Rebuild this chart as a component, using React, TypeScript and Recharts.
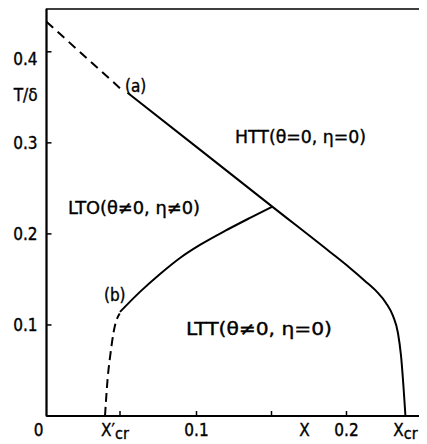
import { LineChart, Line, XAxis, YAxis, ReferenceArea, ReferenceDot } from 'recharts';

const FONT = "'DejaVu Sans Condensed', 'Liberation Sans Narrow', 'DejaVu Sans', sans-serif";

// curve (a): upper boundary of the HTT phase
const aDashX = [0, 0.049];
const aDashY = [0.433, 0.36];
const aSolidX = [0.054, 0.1027, 0.1507, 0.189, 0.2023, 0.2123, 0.2203, 0.2263, 0.231, 0.2343, 0.2363, 0.2393];
const aSolidY = [0.355, 0.292, 0.2297, 0.1802, 0.1626, 0.1484, 0.1363, 0.1242, 0.1099, 0.0912, 0.067, 0];

// curve (b): LTO / LTT boundary
const bSolidX = [0.049, 0.0623, 0.0757, 0.089, 0.1023, 0.119, 0.1357, 0.1503];
const bSolidY = [0.1143, 0.1363, 0.156, 0.1736, 0.1879, 0.2033, 0.2176, 0.2297];
const bDashX = [0.039, 0.0407, 0.0427, 0.045, 0.0488];
const bDashY = [0, 0.04, 0.069, 0.0945, 0.1125];

const xTickValues = [0, 0.049, 0.1, 0.15, 0.172, 0.2, 0.2393];
const xTickLabels = ['0', 'X′cr', '0.1', '', 'X', '0.2', 'Xcr'];
const xTickMarked = [false, true, true, true, false, true, false];

const yTickValues = [0.1, 0.2, 0.3, 0.352, 0.4];
const yTickLabels = ['0.1', '0.2', '0.3', 'T/δ', '0.4'];
const yTickMarked = [true, true, true, false, true];

const annoX = [0.1257, 0.0143, 0.093, 0.0523, 0.0383];
const annoY = [0.3, 0.222, 0.089, 0.356, 0.1264];
const annoText = ['HTT(θ=0, η=0)', 'LTO(θ≠0, η≠0)', 'LTT(θ≠0, η=0)', '(a)', '(b)'];
const annoWidth = [131, 132, 146, 0, 0];

const zip = (xs: number[], ys: number[]) => xs.map((x, i) => ({ x, y: ys[i] }));

const textStyle = { fontFamily: FONT, fill: '#000', stroke: '#000', strokeWidth: 0.35 };

const XTick = (props: any) => {
  const { x, y, payload } = props;
  const i = xTickValues.indexOf(payload.value);
  const label = xTickLabels[i] ?? '';
  let dx = 0;
  if (label === '0') dx = -8;
  if (label.startsWith('X′')) dx = -5;
  const sub = label.endsWith('cr');
  return (
    <g>
      {xTickMarked[i] && <line x1={x} x2={x} y1={y} y2={y - 5} stroke="#000" strokeWidth={1.5} />}
      <text x={x + dx} y={y + 20} textAnchor="middle" fontSize={17} {...textStyle}>
        {sub ? label.slice(0, -2) : label}
        {sub && (
          <tspan dy={3} fontSize={16}>
            cr
          </tspan>
        )}
      </text>
    </g>
  );
};

const YTick = (props: any) => {
  const { x, y, payload } = props;
  const i = yTickValues.indexOf(payload.value);
  const label = yTickLabels[i] ?? '';
  const dy = label === '0.4' ? 13 : 6;
  return (
    <g>
      {yTickMarked[i] && <line x1={x} x2={x + 5} y1={y} y2={y} stroke="#000" strokeWidth={1.5} />}
      <text x={x - 9} y={y + dy} textAnchor="end" fontSize={17} {...textStyle}>
        {label}
      </text>
    </g>
  );
};

export default function App() {
  return (
    <LineChart width={419} height={436} margin={{ top: 1, right: 5.5, bottom: 0, left: 0 }}>
      <XAxis
        type="number"
        dataKey="x"
        domain={[0, 0.25]}
        ticks={xTickValues}
        interval={0}
        tickSize={0}
        tickMargin={0}
        tickLine={false}
        tick={<XTick />}
        height={28}
        axisLine={{ stroke: '#000', strokeWidth: 2 }}
        allowDataOverflow
      />
      <YAxis
        type="number"
        dataKey="y"
        domain={[0, 0.447]}
        ticks={yTickValues}
        interval={0}
        tickSize={0}
        tickMargin={0}
        tickLine={false}
        tick={<YTick />}
        width={38.5}
        axisLine={{ stroke: '#000', strokeWidth: 2 }}
        allowDataOverflow
      />
      <ReferenceArea x1={0} x2={0.25} y1={0} y2={0.447} fill="none" stroke="#000" strokeWidth={1.5} />
      <Line data={zip(aDashX, aDashY)} dataKey="y" type="linear" stroke="#000" strokeWidth={2} strokeDasharray="9 6" dot={false} isAnimationActive={false} />
      <Line data={zip(aSolidX, aSolidY)} dataKey="y" type="monotone" stroke="#000" strokeWidth={2} dot={false} isAnimationActive={false} />
      <Line data={zip(bSolidX, bSolidY)} dataKey="y" type="monotone" stroke="#000" strokeWidth={2} dot={false} isAnimationActive={false} />
      <Line data={zip(bDashX, bDashY)} dataKey="y" type="monotone" stroke="#000" strokeWidth={2} strokeDasharray="9 5" dot={false} isAnimationActive={false} />
      {annoText.map((t, i) => (
        <ReferenceDot
          key={t}
          x={annoX[i]}
          y={annoY[i]}
          r={0}
          shape={(p: any) => (
            <text
              x={p.cx}
              y={p.cy}
              fontSize={annoWidth[i] ? 18 : 17}
              {...textStyle}
              {...(annoWidth[i] ? { textLength: annoWidth[i], lengthAdjust: 'spacingAndGlyphs' } : {})}
            >
              {t}
            </text>
          )}
        />
      ))}
    </LineChart>
  );
}
